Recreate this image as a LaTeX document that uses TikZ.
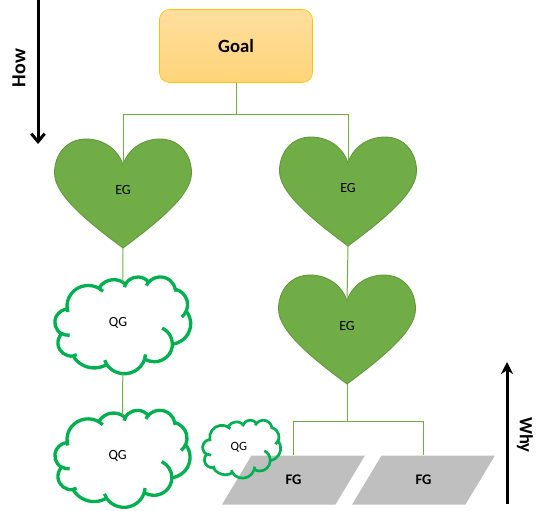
\documentclass[tikz,border=0pt]{standalone}
\usepackage{fontspec}
\setmainfont{Carlito}
\usepackage{tikz}
\usetikzlibrary{shapes.geometric, arrows.meta}

\definecolor{leafgreen}{HTML}{70AD47}
\definecolor{leafedge}{HTML}{5E9638}
\definecolor{cloudgreen}{HTML}{00B050}
\definecolor{goldedge}{HTML}{FFC000}
\definecolor{goldtop}{HTML}{FFDF9E}
\definecolor{goldbot}{HTML}{FFD479}
\definecolor{fggray}{HTML}{BFBFBF}

% one bump of the cloud: x radius, y radius, start angle, sweep
\tikzset{
  bump/.style n args={4}{x radius=#1, y radius=#2,
    start angle={atan2(#1*sin(#3),#2*cos(#3))},
    delta angle={mod(atan2(#1*sin(#3+#4),#2*cos(#3+#4))-atan2(#1*sin(#3),#2*cos(#3))+720,360)}},
}

% heart outline, origin at the top centre
\tikzset{heart/.pic={
    \path[fill=leafgreen, draw=leafedge, line width=0.6pt]
      (0,26) .. controls (-4,12) and (-18,0) .. (-37,0)
      .. controls (-56,0) and (-68.5,15) .. (-68.5,34)
      .. controls (-68.5,54) and (-42,78) .. (0,109)
      .. controls (42,78) and (68.5,54) .. (68.5,34)
      .. controls (68.5,15) and (56,0) .. (37,0)
      .. controls (18,0) and (4,12) .. cycle;
    \coordinate (-top) at (0,26);
    \coordinate (-tip) at (0,109);
    \node[font=\fontsize{10.5}{12}\selectfont] (-c) at (0,51) {EG};
}}

% cloud outline in a 43.2 x 43.2 box, origin at the centre
\tikzset{qcloud/.pic={
  \begin{scope}[shift={(-21.6,-21.6)}]
    \draw[cloudgreen, line join=round]
      (3.9,14.37) arc[bump={6.753}{9.19}{-190.4875}{123.7805}]
      arc[bump={5.333}{7.267}{-144.1024}{89.9452}]
      arc[bump={4.365}{5.945}{-145.8079}{99.723}]
      arc[bump={4.857}{6.595}{-130.9861}{117.2417}]
      arc[bump={5.333}{7.273}{-78.7089}{109.0269}]
      arc[bump={6.775}{9.22}{-46.2673}{130.269}]
      arc[bump={5.785}{7.867}{0.625}{114.0333}]
      arc[bump={6.752}{9.215}{22.4516}{115.1726}]
      arc[bump={7.72}{10.543}{66.2426}{75.711}]
      arc[bump={4.36}{5.918}{-274.9421}{146.7356}]
      arc[bump={4.345}{5.945}{-246.8285}{152.5189}] -- cycle;
    \draw[cloudgreen]
      (4.693,26.177) arc[bump={4.345}{5.945}{86.742}{26.4295}]
      (6.928,34.899) arc[bump={4.36}{5.918}{73.6105}{11.4475}]
      (16.478,39.09) arc[bump={6.752}{9.215}{137.6242}{14.0811}]
      (28.827,34.751) arc[bump={6.752}{9.215}{6.4533}{15.9984}]
      (34.129,22.954) arc[bump={5.785}{7.867}{-70.2924}{70.9174}]
      (41.798,15.354) arc[bump={5.333}{7.273}{30.318}{27.7515}]
      (38.324,5.426) arc[bump={4.857}{6.595}{-13.7443}{14.8589}]
      (29.078,3.952) arc[bump={4.857}{6.595}{-149.1815}{18.1954}]
      (22.141,4.72) arc[bump={4.365}{5.945}{-163.4943}{17.6864}]
      (14,5.192) arc[bump={6.753}{9.19}{-66.707}{12.3194}]
      (4.127,15.789) arc[bump={6.753}{9.19}{157.6544}{11.8582}];
    \coordinate (-n) at (21.6,2.7);
    \coordinate (-s) at (21.6,43.2);
    \node (-c) at (20.06,20.6) {QG};
  \end{scope}
}}

\begin{document}
\begin{tikzpicture}[x=0.75pt, y=-0.75pt]
    % Define the styles
    \tikzstyle{goalbox} = [rectangle, rounded corners=7.5pt, draw=goldedge, top color=goldtop, bottom color=goldbot, minimum width=114.75pt, minimum height=54.75pt, font=\fontsize{14}{16}\selectfont\bfseries]
    \tikzstyle{fgbox} = [trapezium, trapezium left angle=60, trapezium right angle=120, trapezium stretches=true, fill=fggray, minimum width=107.25pt, minimum height=36.75pt, inner sep=0pt, font=\fontsize{11}{13}\selectfont\bfseries]
    \tikzstyle{link} = [draw=leafgreen, line width=0.75pt]
    \tikzstyle{bigarrow} = [draw=black, line width=2.25pt]

    \useasboundingbox (0,0) rectangle (545,510);

    % Place the nodes
    \node [goalbox] (goal) at (236,46) {Goal};
    \pic (eg1) at (123,139) {heart};
    \pic (eg2) at (348,137) {heart};
    \pic (eg3) at (347,275) {heart};
    \coordinate (q1c) at (122.8,325);
    \coordinate (q2c) at (122.5,458.5);
    \coordinate (q3c) at (241.7,449);
    \pic [x=2.356pt, y=-1.679pt, line width=2.5pt, font=\fontsize{10.5}{12}\selectfont] (qg1) at (q1c) {qcloud};
    \pic [x=2.344pt, y=-1.684pt, line width=2.5pt, font=\fontsize{10.5}{12}\selectfont] (qg2) at (q2c) {qcloud};
    \node [fgbox] (fg1) at (293.5,480) {FG};
    \node [fgbox] (fg2) at (423.5,480) {FG};
    \pic [x=1.354pt, y=-1.007pt, line width=2pt, font=\fontsize{9.5}{11}\selectfont] (qg3) at (q3c) {qcloud};

    % How / Why arrows
    \coordinate (howtop) at (38,0);
    \coordinate (howend) at (38,144);
    \node [rotate=90, font=\fontsize{15}{17}\selectfont\bfseries] (how) at (19,68) {How};
    \coordinate (whybot) at (507,504);
    \coordinate (whyend) at (507,362);
    \node [rotate=-90, font=\fontsize{14}{16}\selectfont\bfseries] (why) at (525,435) {Why};
    \path [bigarrow, -{Straight Barb[length=6pt, width=10pt]}] (howtop) -- (howend);
    \path [bigarrow, -{Stealth[length=9pt, width=9pt]}] (whybot) -- (whyend);

    % Connect the nodes
    \path [link] (goal.south) -- ++(0,32) -| (eg1-top);
    \path [link] (goal.south) -- ++(0,32) -| (eg2-top);
    \path [link] (eg1-tip) -- (qg1-n);
    \path [link] (qg1-s) -- (qg2-n);
    \path [link] (eg2-tip) -- (eg3-top);
    \path [link] (eg3-tip) -- ++(0,37) -| (fg1.north);
    \path [link] (eg3-tip) -- ++(0,37) -| (fg2.north);

\end{tikzpicture}
\end{document}
